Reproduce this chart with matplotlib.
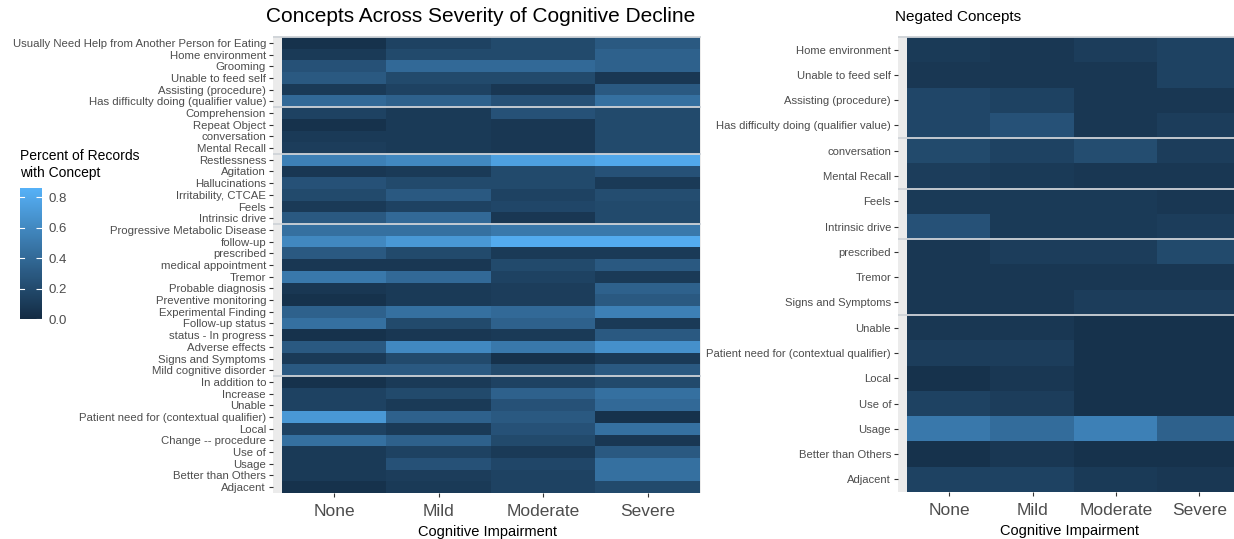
import numpy as np
import matplotlib
matplotlib.use("Agg")
import matplotlib.pyplot as plt
from matplotlib.colors import LinearSegmentedColormap, Normalize

plt.rcParams['font.family'] = ['Liberation Sans', 'DejaVu Sans']

# severity levels on the x axis
severity = ['None', 'Mild', 'Moderate', 'Severe']

# concepts across severity (top to bottom)
concepts = [
    'Usually Need Help from Another Person for Eating', 'Home environment', 'Grooming',
    'Unable to feed self', 'Assisting (procedure)', 'Has difficulty doing (qualifier value)',
    'Comprehension', 'Repeat Object', 'conversation', 'Mental Recall',
    'Restlessness', 'Agitation', 'Hallucinations', 'Irritability, CTCAE', 'Feels', 'Intrinsic drive',
    'Progressive Metabolic Disease', 'follow-up', 'prescribed', 'medical appointment', 'Tremor',
    'Probable diagnosis', 'Preventive monitoring', 'Experimental Finding', 'Follow-up status',
    'status - In progress', 'Adverse effects', 'Signs and Symptoms', 'Mild cognitive disorder',
    'In addition to', 'Increase', 'Unable', 'Patient need for (contextual qualifier)', 'Local',
    'Change -- procedure', 'Use of', 'Usage', 'Better than Others', 'Adjacent',
]
concept_pct = [
    [0.05, 0.15, 0.20, 0.30],
    [0.10, 0.20, 0.20, 0.35],
    [0.25, 0.40, 0.40, 0.35],
    [0.30, 0.20, 0.20, 0.08],
    [0.10, 0.15, 0.08, 0.30],
    [0.40, 0.35, 0.25, 0.45],
    [0.15, 0.10, 0.25, 0.20],
    [0.05, 0.10, 0.08, 0.20],
    [0.10, 0.10, 0.08, 0.20],
    [0.12, 0.10, 0.08, 0.20],
    [0.55, 0.60, 0.75, 0.80],
    [0.08, 0.10, 0.20, 0.25],
    [0.25, 0.20, 0.20, 0.10],
    [0.20, 0.30, 0.15, 0.22],
    [0.10, 0.15, 0.18, 0.20],
    [0.30, 0.40, 0.08, 0.20],
    [0.45, 0.45, 0.50, 0.50],
    [0.60, 0.70, 0.82, 0.82],
    [0.30, 0.20, 0.10, 0.10],
    [0.08, 0.08, 0.20, 0.30],
    [0.50, 0.40, 0.15, 0.10],
    [0.08, 0.10, 0.12, 0.35],
    [0.05, 0.10, 0.12, 0.30],
    [0.35, 0.45, 0.40, 0.55],
    [0.45, 0.20, 0.35, 0.10],
    [0.05, 0.08, 0.10, 0.30],
    [0.30, 0.60, 0.50, 0.65],
    [0.10, 0.20, 0.05, 0.10],
    [0.30, 0.30, 0.20, 0.30],
    [0.05, 0.10, 0.15, 0.20],
    [0.15, 0.20, 0.35, 0.45],
    [0.15, 0.10, 0.25, 0.40],
    [0.70, 0.35, 0.30, 0.05],
    [0.15, 0.10, 0.25, 0.45],
    [0.45, 0.35, 0.20, 0.08],
    [0.10, 0.15, 0.10, 0.30],
    [0.10, 0.25, 0.18, 0.45],
    [0.10, 0.12, 0.15, 0.45],
    [0.05, 0.10, 0.15, 0.20],
]
concept_breaks = [6, 10, 16, 29]

# negated concepts
negated = [
    'Home environment', 'Unable to feed self', 'Assisting (procedure)',
    'Has difficulty doing (qualifier value)', 'conversation', 'Mental Recall', 'Feels',
    'Intrinsic drive', 'prescribed', 'Tremor', 'Signs and Symptoms', 'Unable',
    'Patient need for (contextual qualifier)', 'Local', 'Use of', 'Usage',
    'Better than Others', 'Adjacent',
]
negated_pct = [
    [0.10, 0.08, 0.12, 0.15],
    [0.08, 0.08, 0.08, 0.15],
    [0.18, 0.15, 0.08, 0.08],
    [0.18, 0.25, 0.08, 0.12],
    [0.20, 0.15, 0.22, 0.12],
    [0.12, 0.10, 0.08, 0.08],
    [0.10, 0.10, 0.10, 0.08],
    [0.25, 0.10, 0.10, 0.12],
    [0.08, 0.12, 0.12, 0.20],
    [0.08, 0.08, 0.08, 0.08],
    [0.08, 0.08, 0.12, 0.12],
    [0.08, 0.08, 0.05, 0.05],
    [0.12, 0.12, 0.05, 0.05],
    [0.05, 0.08, 0.05, 0.05],
    [0.15, 0.12, 0.05, 0.05],
    [0.50, 0.42, 0.55, 0.35],
    [0.05, 0.08, 0.05, 0.05],
    [0.15, 0.15, 0.10, 0.08],
]
negated_breaks = [4, 6, 8, 11]

W, H = 1234, 539
cmap = LinearSegmentedColormap.from_list('gg', ['#132B43', '#56B1F7'])
norm = Normalize(0, 0.86)
txt = '#4d4d4d'

fig = plt.figure(figsize=(W / 100, H / 100), dpi=100)


def px_axes(x0, y0, x1, y1):
    return fig.add_axes([x0 / W, 1 - y1 / H, (x1 - x0) / W, (y1 - y0) / H])


def heat(ax, labels, values, breaks, lpad, rpad, tpad, ysize):
    data = np.array(values)
    n = len(labels)
    ax.set_facecolor('#ebebeb')
    im = ax.imshow(data, cmap=cmap, norm=norm, aspect='auto', interpolation='nearest')
    ax.set_xlim(-0.5 - lpad, 3.5 + rpad)
    ax.set_ylim(n - 0.5, -0.5 - tpad)
    for b in [0] + breaks:
        ax.axhline(b - 0.5, color='#cfd3d8', lw=1.3)
    ax.set_xticks(range(len(severity)))
    ax.set_xticklabels(severity, fontsize=12.5, color=txt)
    ax.set_yticks(range(n))
    ax.set_yticklabels(labels, fontsize=ysize, color=txt)
    ax.tick_params(axis='both', length=3, width=0.8, color='#333333', pad=2)
    ax.tick_params(axis='x', pad=5)
    ax.set_xlabel('Cognitive Impairment', fontsize=10.5, color='black', labelpad=4)
    for s in ax.spines.values():
        s.set_visible(False)
    return im


ax1 = px_axes(273, 36, 701, 493)
im = heat(ax1, concepts, concept_pct, concept_breaks, 9 / 104, 1 / 104, 0.09, 8.2)
ax2 = px_axes(898, 36, 1242, 492)
heat(ax2, negated, negated_pct, negated_breaks, 9.3 / 83.3, 0.01, 0.04, 8.1)

fig.text(481 / W, 1 - 17 / H, 'Concepts Across Severity of Cognitive Decline',
         fontsize=15, ha='center', va='center')
fig.text(895 / W, 1 - 17 / H, 'Negated Concepts', fontsize=11, ha='left', va='center')

# colour legend
fig.text(20 / W, 1 - 149 / H, 'Percent of Records\nwith Concept', fontsize=10,
         ha='left', va='top', linespacing=1.3)
cax = px_axes(20, 188, 42, 319)
cb = fig.colorbar(im, cax=cax, ticks=[0, 0.2, 0.4, 0.6, 0.8])
cb.outline.set_visible(False)
cb.ax.set_yticklabels(['0.0', '0.2', '0.4', '0.6', '0.8'])
cb.ax.tick_params(length=4, width=0.8, color='white', direction='in', labelsize=9.5,
                  labelcolor=txt, pad=5)
for t in [0.2, 0.4, 0.6, 0.8]:
    cax.plot([0, 0.18], [t, t], color='white', lw=0.8, transform=cax.get_yaxis_transform())

fig.savefig('out.png', dpi=100)
